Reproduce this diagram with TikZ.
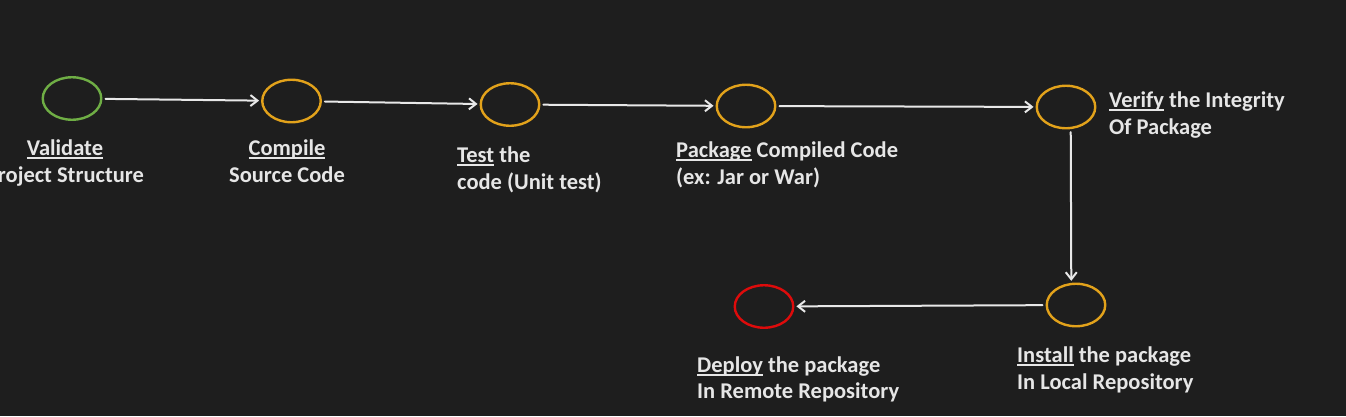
\documentclass[tikz,border=0pt]{standalone}
\usepackage{fontspec}
\setmainfont{Carlito}
\usetikzlibrary{arrows.meta,shapes.geometric}
\definecolor{bgc}{HTML}{1E1E1E}
\definecolor{txtc}{HTML}{E6E6E6}
\definecolor{arrc}{HTML}{E8E8E8}
\definecolor{okgreen}{HTML}{6FAE45}
\definecolor{stepgold}{HTML}{E2A21B}
\definecolor{failred}{HTML}{DE0B0B}
\newsavebox\undrbox
\newcommand\undr[1]{\sbox\undrbox{#1}\rlap{\rule[-3.5pt]{\wd\undrbox}{1.8pt}}\usebox\undrbox}
\begin{document}
\begin{tikzpicture}[x=1pt, y=-1pt, line join=round, line cap=round, >={Straight Barb[length=7pt,width=11pt]},
    stage/.style={ellipse, draw=stepgold, line width=2.4pt, minimum width=58.5pt, minimum height=42.5pt, inner sep=0pt},
    lbl/.style={text=txtc, font=\fontsize{22.5}{26.5}\selectfont\bfseries, inner sep=0pt, align=left},
    arr/.style={->, draw=arrc, line width=2pt, shorten <=3pt, shorten >=2pt}]
    \fill[bgc] (0,0) rectangle (1346,416);
    \useasboundingbox (0,0) rectangle (1346,416);
    \node[stage, draw=okgreen] (validate) at (72,98.5) {};
    \node[stage] (compile) at (291.5,101) {};
    \node[stage] (test) at (510,104.5) {};
    \node[stage] (package) at (746,106) {};
    \node[stage] (verify) at (1066,107) {};
    \node[stage] (install) at (1076,305) {};
    \node[stage, draw=failred] (deploy) at (764,306.5) {};
    \draw[arr] (validate) -- (compile);
    \draw[arr] (compile) -- (test);
    \draw[arr] (test) -- (package);
    \draw[arr] (package) -- (verify);
    \draw[arr] (verify.282) -- (install.102);
    \draw[arr] (install) -- (deploy);
    % base anchor sits on the last line
    \node[lbl, align=center, anchor=base] (validateL) at (65,182) {\undr{Validate}\\Project Structure};
    \node[lbl, align=center, anchor=base] (compileL) at (287,182) {\undr{Compile}\\Source Code};
    \node[lbl, anchor=base west] (testL) at (457,189) {\undr{Test} the\\code (Unit test)};
    \node[lbl, anchor=base west] (packageL) at (676,184) {\undr{Package} Compiled Code\\(ex: Jar or War)};
    \node[lbl, anchor=base west] (verifyL) at (1109,134) {\undr{Verify} the Integrity\\Of Package};
    \node[lbl, anchor=base west] (installL) at (1017,389) {\undr{Install} the package\\In Local Repository};
    \node[lbl, anchor=base west] (deployL) at (697,398.5) {\undr{Deploy} the package\\In Remote Repository};
\end{tikzpicture}
\end{document}
